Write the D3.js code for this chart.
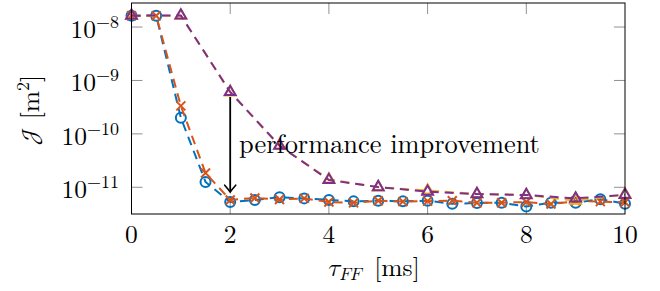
<!DOCTYPE html>
<html><head><meta charset="utf-8">
<script src="https://cdn.jsdelivr.net/npm/d3@7/dist/d3.min.js"></script>
<style>html,body{margin:0;padding:0;background:#fff;} svg{display:block;}</style>
</head><body>
<svg id="chart" width="660" height="291"></svg>
<script>
// ---- data ----
const tauHalf = [0,0.5,1,1.5,2,2.5,3,3.5,4,4.5,5,5.5,6,6.5,7,7.5,8,8.5,9,9.5,10];
const blueJ   = [1.63e-8,1.63e-8,2.0e-10,1.26e-11,5.3e-12,5.8e-12,6.5e-12,6.2e-12,5.8e-12,5.45e-12,5.6e-12,5.45e-12,5.6e-12,4.9e-12,5.1e-12,5.15e-12,4.35e-12,5.15e-12,5.15e-12,6.0e-12,4.9e-12];
const orangeJ = [1.63e-8,1.63e-8,3.34e-10,1.85e-11,5.8e-12,6.3e-12,5.9e-12,6.2e-12,5.3e-12,5.1e-12,5.6e-12,5.4e-12,5.5e-12,5.6e-12,5.15e-12,5.15e-12,5.3e-12,4.86e-12,5.5e-12,5.4e-12,5.25e-12];
const tauInt  = [0,1,2,3,4,5,6,7,8,9,10];
const yellowJ = [1.63e-8,1.63e-8,6.0e-10,6.0e-11,1.4e-11,1.0e-11,8.7e-12,7.5e-12,7.2e-12,5.6e-12,7.4e-12];
const purpleJ = [1.63e-8,1.65e-8,6.1e-10,6.0e-11,1.37e-11,1.01e-11,8.26e-12,7.48e-12,7.16e-12,6.2e-12,7.2e-12];
const xTicks = [0,2,4,6,8,10];
const yTickExps = [-8,-9,-10,-11];
const arrowAnn = {x:2, from:4.9e-10, to:8.1e-12};
const textAnn = {x:2.18, y:4.4e-11, label:"performance improvement"};

// ---- layout ----
const L=131.5, R=625, T=3, B=214;
const svg = d3.select("#chart");
const x = d3.scaleLinear().domain([0,10]).range([L,R]);
const y = d3.scaleLog().domain([Math.pow(10,-11.5), Math.pow(10,-7.55)]).range([B,T]);
const serif = '"Latin Modern Roman","Liberation Serif",serif';
const mathF = '"Latin Modern Math","Latin Modern Roman","Liberation Serif",serif';

// ---- ticks ----
const tk = svg.append("g");
const minorVals = [];
yTickExps.forEach(e => { if (e > -8) for (let k=2;k<=9;k++) minorVals.push(k*Math.pow(10,e)); });
minorVals.forEach(v => {
  tk.append("line").attr("x1",L).attr("x2",L+7).attr("y1",y(v)).attr("y2",y(v)).attr("stroke","#a0a0a0").attr("stroke-width",1);
  tk.append("line").attr("x1",R).attr("x2",R-7).attr("y1",y(v)).attr("y2",y(v)).attr("stroke","#a0a0a0").attr("stroke-width",1);
});
yTickExps.forEach(e => {
  const v = Math.pow(10,e);
  tk.append("line").attr("x1",L).attr("x2",L+11).attr("y1",y(v)).attr("y2",y(v)).attr("stroke","#909090").attr("stroke-width",1);
  tk.append("line").attr("x1",R).attr("x2",R-11).attr("y1",y(v)).attr("y2",y(v)).attr("stroke","#909090").attr("stroke-width",1);
  const t = svg.append("text").attr("x",119).attr("y",y(v)+11).attr("text-anchor","end")
    .style("font-family",serif).attr("font-size",25.5).attr("fill","#000");
  t.append("tspan").text("10");
  t.append("tspan").attr("dy",-10).attr("font-size",18).text("\u2212"+(-e));
});
xTicks.forEach(v => {
  if (v>0 && v<10) {
    tk.append("line").attr("x1",x(v)).attr("x2",x(v)).attr("y1",B).attr("y2",B-11).attr("stroke","#909090").attr("stroke-width",1);
    tk.append("line").attr("x1",x(v)).attr("x2",x(v)).attr("y1",T).attr("y2",T+11).attr("stroke","#909090").attr("stroke-width",1);
  }
  svg.append("text").attr("x",x(v)).attr("y",243).attr("text-anchor","middle")
    .style("font-family",serif).attr("font-size",25.5).attr("fill","#000").text(v);
});

// ---- series ----
const line = d3.line().x(d=>x(d[0])).y(d=>y(d[1]));
function drawSeries(xs, ys, color, mark) {
  const pts = xs.map((v,i)=>[v,ys[i]]);
  const g = svg.append("g");
  g.append("path").attr("d",line(pts)).attr("fill","none").attr("stroke",color)
    .attr("stroke-width",2).attr("stroke-dasharray","9,6");
  pts.forEach(p => {
    const cx = x(p[0]), cy = y(p[1]);
    if (mark==="circle") {
      g.append("circle").attr("cx",cx).attr("cy",cy).attr("r",5).attr("fill","none").attr("stroke",color).attr("stroke-width",2);
    } else if (mark==="x") {
      const r=4.5;
      g.append("path").attr("d",`M${cx-r},${cy-r}L${cx+r},${cy+r}M${cx-r},${cy+r}L${cx+r},${cy-r}`)
        .attr("stroke",color).attr("stroke-width",2).attr("fill","none");
    } else {
      const r=6.2, s=r*Math.sin(Math.PI/3);
      g.append("path").attr("d",`M${cx},${cy-r}L${cx+s},${cy+r/2}L${cx-s},${cy+r/2}Z`)
        .attr("stroke",color).attr("stroke-width",2).attr("fill","none").attr("stroke-linejoin","miter");
    }
  });
}
drawSeries(tauHalf, blueJ, "#0072BD", "circle");
drawSeries(tauHalf, orangeJ, "#D95319", "x");
drawSeries(tauInt, yellowJ, "#EDB120", "tri");
drawSeries(tauInt, purpleJ, "#7E2F8E", "tri");

// ---- frame ----
svg.append("rect").attr("x",L).attr("y",T).attr("width",R-L).attr("height",B-T)
  .attr("fill","none").attr("stroke","#000").attr("stroke-width",1);

// ---- annotation ----
const ax = x(arrowAnn.x), ay1 = y(arrowAnn.from), ay2 = y(arrowAnn.to);
svg.append("line").attr("x1",ax).attr("x2",ax).attr("y1",ay1).attr("y2",ay2-1)
  .attr("stroke","#000").attr("stroke-width",1.8);
svg.append("path").attr("d",`M${ax-5.5},${ay2-7}Q${ax-1.5},${ay2-2.5} ${ax},${ay2}Q${ax+1.5},${ay2-2.5} ${ax+5.5},${ay2-7}`)
  .attr("fill","none").attr("stroke","#000").attr("stroke-width",1.6).attr("stroke-linecap","round");
svg.append("text").attr("x",x(textAnn.x)).attr("y",y(textAnn.y)).style("font-family",serif)
  .attr("font-size",26.4).attr("fill","#000").text(textAnn.label);

// ---- axis labels ----
const xl = svg.append("text").attr("x",374).attr("y",276).attr("text-anchor","middle")
  .style("font-family",serif).attr("font-size",25.5).attr("fill","#000");
xl.append("tspan").style("font-family",mathF).text("\uD835\uDF0F");
xl.append("tspan").style("font-family",mathF).attr("font-size",17).attr("dy",4).text("\uD835\uDC39\uD835\uDC39");
xl.append("tspan").attr("dy",-4).attr("dx",13).text("[ms]");

const yl = svg.append("text").attr("transform","translate(39,110) rotate(-90)").attr("text-anchor","middle")
  .style("font-family",serif).attr("font-size",25.5).attr("fill","#000");
yl.append("tspan").style("font-family",mathF).text("\uD835\uDCA5");
yl.append("tspan").attr("dx",8).text("[m");
yl.append("tspan").attr("font-size",18).attr("dy",-10).text("2");
yl.append("tspan").attr("dy",10).text("]");
</script>
</body></html>
